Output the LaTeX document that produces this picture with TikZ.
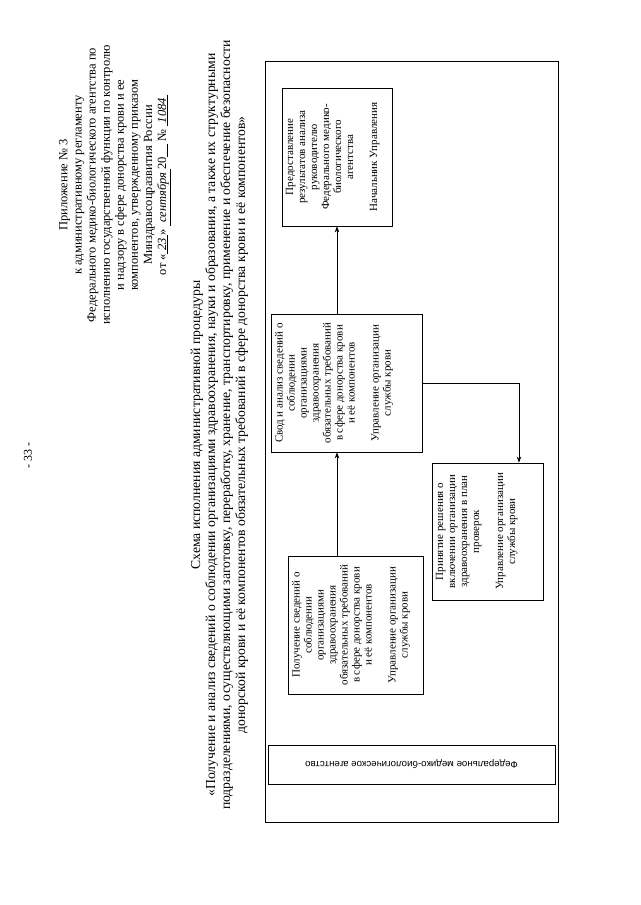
\documentclass[tikz,border=0pt]{standalone}
\usepackage{fontspec}
\usepackage{graphicx}
\setmainfont{Liberation Serif}
\newfontfamily\sansf{Liberation Sans}
\usetikzlibrary{arrows.meta,calc}
\newcommand{\vtext}[3]{\rotatebox{90}{\parbox[c][#2][t]{#1}{\centering #3}}}
\begin{document}
\begin{tikzpicture}[x=1pt,y=1pt,
  stepbox/.style={draw, line width=0.8pt, inner sep=0pt, font=\fontsize{11}{12}\selectfont},
  arr/.style={line width=0.7pt, -{Stealth[length=6pt,width=4.5pt]}},
]
\useasboundingbox (0,0) rectangle (640,-905);
\fill[white] (0,0) rectangle (640,-905);

\node[rotate=90, font=\fontsize{12}{14}\selectfont] (pg) at (28,-455) {- 33 -};

\node[rotate=90, align=center, font=\fontsize{12.5}{14.1}\selectfont] (hdr) at (115,-185)
{Приложение № 3\\
к административному регламенту\\
Федерального медико-биологического агентства по\\
исполнению государственной функции по контролю\\
и надзору в сфере донорства крови и ее\\
компонентов, утвержденному приказом\\
Минздравсоцразвития России\\
от «\underline{\textit{ 23 }}» \underline{\textit{ сентября }}20\underline{\phantom{00}} № \underline{\textit{ 1084 }}};

\node[rotate=90, align=center, font=\fontsize{13.7}{15}\selectfont] (ttl) at (219.5,-425)
{Схема исполнения административной процедуры\\
«Получение и анализ сведений о соблюдении организациями здравоохранения, науки и образования, а также их структурными\\
подразделениями, осуществляющими заготовку, переработку, хранение, транспортировку, применение и обеспечение безопасности\\
донорской крови и её компонентов обязательных требований в сфере донорства крови и её компонентов»};

\node[draw, line width=0.5pt, inner sep=0pt, minimum width=293pt, minimum height=761pt] (frame) at (411.5,-441.5) {};

\node[stepbox, minimum width=110pt, minimum height=138pt] (pred) at (337,-157)
{\vtext{130pt}{102pt}{Предоставление\\ результатов анализа\\ руководителю\\ Федерального медико-\\ биологического\\ агентства\\[12pt] Начальник Управления}};

\node[stepbox, minimum width=151pt, minimum height=138pt] (svod) at (346.5,-383)
{\vtext{130pt}{143pt}{Свод и анализ сведений о\\ соблюдении\\ организациями\\ здравоохранения\\ обязательных требований\\ в сфере донорства крови\\ и её компонентов\\[12pt] Управление организации\\ службы крови}};

\node[stepbox, minimum width=135pt, minimum height=138pt] (poluch) at (355.5,-625)
{\vtext{130pt}{127pt}{Получение сведений о\\ соблюдении\\ организациями\\ здравоохранения\\ обязательных требований\\ в сфере донорства крови\\ и её компонентов\\[12pt] Управление организации\\ службы крови}};

\node[stepbox, minimum width=111pt, minimum height=137pt] (prin) at (487.5,-531.5)
{\vtext{129pt}{103pt}{Принятие решения о\\ включении организации\\ здравоохранения в план\\ проверок\\[12pt] Управление организации\\ службы крови}};

\node[stepbox, minimum width=287pt, minimum height=39pt] (fed) at (411.5,-764.5)
{\rotatebox{180}{\sansf\fontsize{9.7}{12}\selectfont Федеральное медико-биологическое агентство}};

\draw[arr] (poluch.north -| pred.center) -- (svod.south -| pred.center);
\draw[arr] (svod.north -| pred.center) -- (pred.south);
\draw[arr] (svod.east) -| ([xshift=31.5pt]prin.north);
\end{tikzpicture}
\end{document}
